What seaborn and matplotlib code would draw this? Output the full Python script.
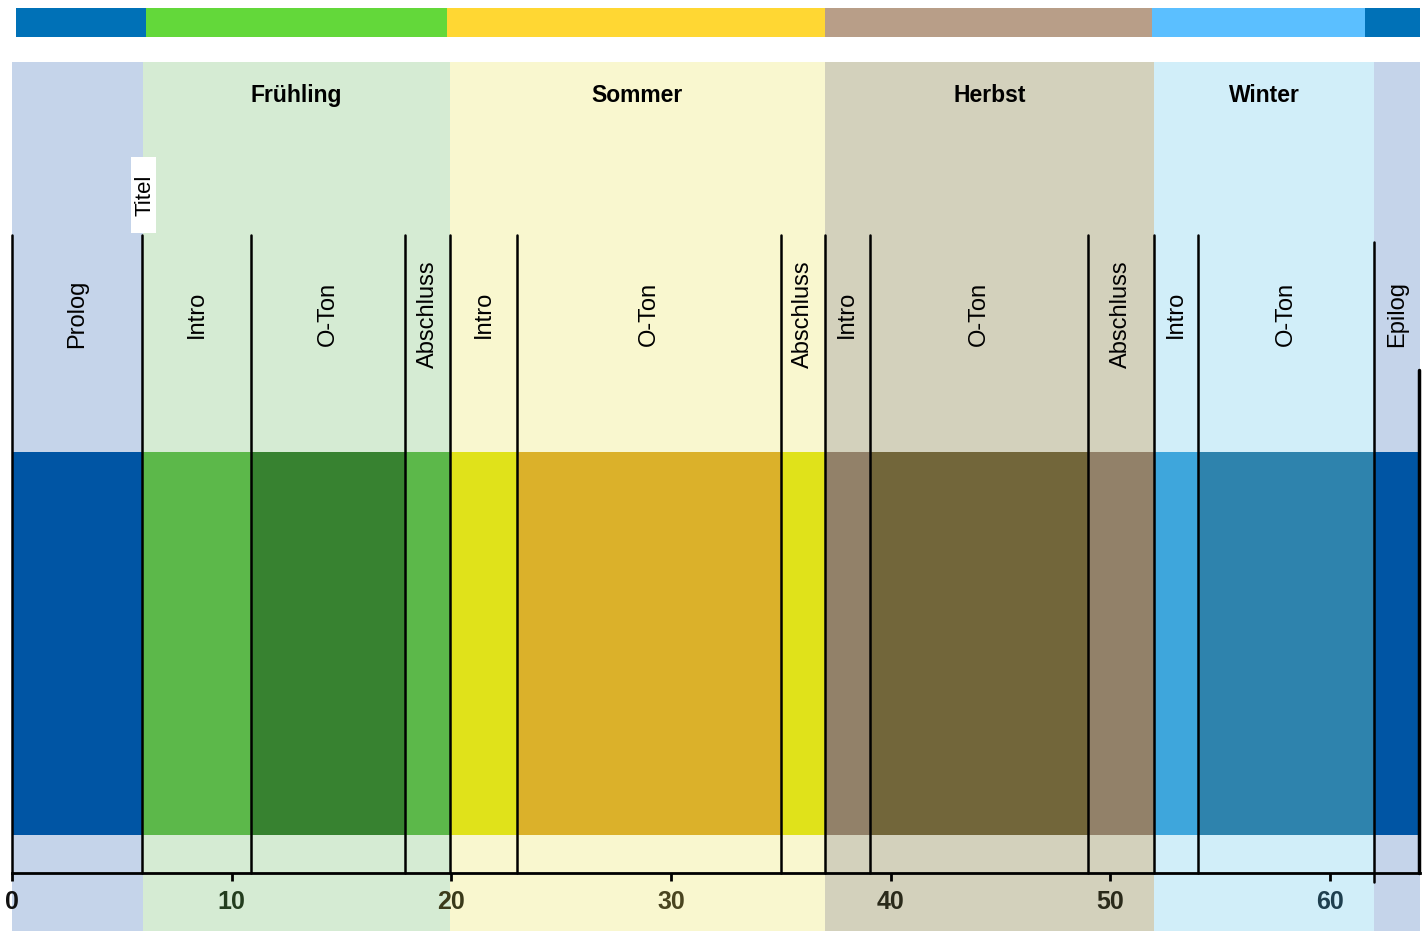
import matplotlib
matplotlib.use("Agg")
import matplotlib.pyplot as plt
import matplotlib.transforms as mtransforms
from matplotlib.patches import Rectangle
import seaborn as sns

sns.set_theme(style="white")
plt.rcParams['font.family'] = ['Liberation Sans', 'DejaVu Sans']

# Jahreszeiten (Hintergrund)
seasons = ["Prolog", "Frühling", "Sommer", "Herbst", "Winter", "Epilog"]
season_start = [0, 5.95, 19.95, 37, 52, 62]
season_end = [5.95, 19.95, 37, 52, 62, 64.1]
season_bg = ["#c5d4ea", "#d5ebd3", "#f9f7cf", "#d3d1bc", "#d1eef9", "#c5d4ea"]
season_titles = ["", "Frühling", "Sommer", "Herbst", "Winter", ""]

# Farbleiste oben
top_edges = [0.2, 6.1, 19.8, 37, 51.9, 61.6, 64.1]
top_colors = ["#0071b7", "#63d83a", "#ffd733", "#b89e88", "#5bbfff", "#0071b7"]

# Abschnitte
parts = ["Prolog", "Intro", "O-Ton", "Abschluss", "Intro", "O-Ton", "Abschluss",
         "Intro", "O-Ton", "Abschluss", "Intro", "O-Ton", "Epilog"]
part_start = [0, 5.9, 10.9, 17.9, 19.95, 23, 35, 37, 39.05, 49, 52, 54, 62]
part_end = [5.9, 10.9, 17.9, 19.95, 23, 35, 37, 39.05, 49, 52, 54, 62, 64.1]
part_colors = ["#0055a4", "#5cb84a", "#378230", "#5cb84a", "#e0e21a", "#dbb12a", "#e0e21a",
               "#928169", "#72663a", "#928169", "#3ea6dc", "#2e83ad", "#0055a4"]

# Marker
marker_label = "Titel"
marker_pos = 6

xticks = [0, 10, 20, 30, 40, 50, 60]
xtick_colors = ["#111111", "#233d1e", "#3a3a1a", "#4a4520", "#2a2a1a", "#2a2a1a", "#1f3f4f"]

W, H = 1427, 931
fig = plt.figure(figsize=(W / 100, H / 100), dpi=100)
fig.patch.set_facecolor("white")

# --- Farbleiste oben ---
ax_top = fig.add_axes([12 / W, (H - 37) / H, 1408 / W, 29 / H])
widths_top = [b - a for a, b in zip(top_edges[:-1], top_edges[1:])]
ax_top.bar(top_edges[:-1], [1] * len(widths_top), width=widths_top, align="edge",
           color=top_colors, linewidth=0)
ax_top.set_xlim(0, 64.1)
ax_top.set_ylim(0, 1)
ax_top.axis("off")

# --- Hauptachse ---
ax = fig.add_axes([12 / W, 58 / H, 1408 / W, 811 / H])
ax.set_xlim(0, 64.1)
ax.set_ylim(0, 1)
ax.set_facecolor("none")

for s, e, c in zip(season_start, season_end, season_bg):
    ax.axvspan(s, e, ymin=-0.072, ymax=1.0, color=c, lw=0, zorder=0, clip_on=False)

for s, e, t in zip(season_start, season_end, season_titles):
    if t:
        ax.text((s + e) / 2, 0.959, t, ha="center", va="center", fontsize=16.5,
                fontweight="bold", color="black", zorder=5)

widths = [e - s for s, e in zip(part_start, part_end)]
ax.bar(part_start, [0.472] * len(parts), bottom=0.047, width=widths, align="edge",
       color=part_colors, linewidth=0, zorder=2)

# Trennlinien
for s in part_start:
    top = 0.778 if s == 62 else 0.787
    bottom = -0.011 if s == 62 else 0
    ax.axvline(s, ymin=bottom, ymax=top, color="black", lw=1.8, zorder=3, clip_on=False)
ax.axvline(64.05, ymin=0, ymax=0.62, color="black", lw=2.5, zorder=3, clip_on=False)

for s, e, p in zip(part_start, part_end, parts):
    ax.text((s + e) / 2, 0.689, p, rotation=90, ha="center", va="center",
            fontsize=17, color="black", zorder=5)

# Titel-Marker
trans = mtransforms.blended_transform_factory(ax.transData, ax.transAxes)
ax.add_patch(Rectangle((marker_pos - 0.6, 0.789), 1.15, 0.094, transform=trans,
                       facecolor="white", edgecolor="none", zorder=4, clip_on=False))
ax.text(marker_pos + 0.05, 0.836, marker_label, rotation=90, ha="center", va="center",
        fontsize=16, color="black", zorder=5)

sns.despine(ax=ax, left=True, top=True, right=True)
ax.spines["bottom"].set_color("black")
ax.spines["bottom"].set_linewidth(2)
ax.set_yticks([])
ax.set_xticks(xticks)
ax.set_xticklabels([str(t) for t in xticks], fontsize=18, fontweight="bold")
for lbl, c in zip(ax.get_xticklabels(), xtick_colors):
    lbl.set_color(c)
ax.tick_params(axis="x", bottom=True, length=6, width=2, color="black", pad=6)
ax.grid(False)

fig.savefig("out.png", dpi=100, facecolor="white")
